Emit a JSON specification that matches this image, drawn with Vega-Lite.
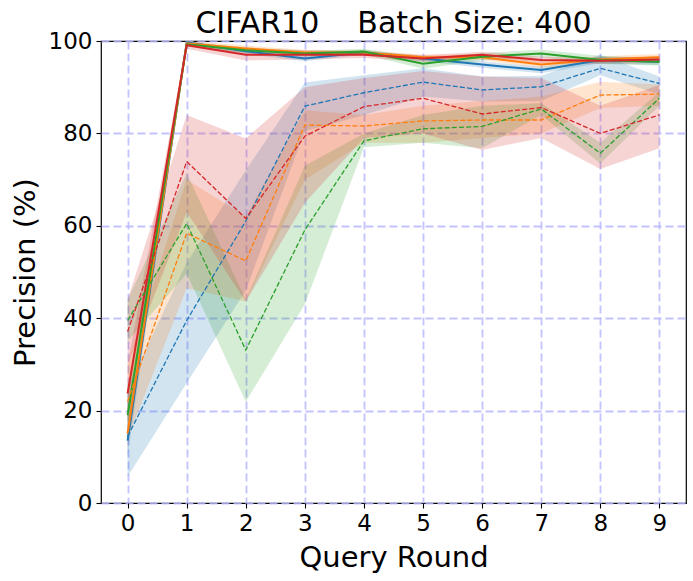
{
  "$schema": "https://vega.github.io/schema/vega-lite/v6.json",
  "width": 585,
  "height": 462,
  "autosize": {"type": "none"},
  "padding": {"left": 101, "top": 41, "right": 7, "bottom": 78},
  "title": {
    "text": "CIFAR10\u00a0\u00a0\u00a0\u00a0Batch Size: 400",
    "font": "DejaVu Sans",
    "fontSize": 30,
    "fontWeight": "normal",
    "color": "black",
    "anchor": "middle",
    "frame": "group",
    "baseline": "alphabetic",
    "offset": 9,
    "dy": 42
  },
  "config": {
    "view": {"stroke": "black", "strokeWidth": 1.2},
    "axis": {
      "labelFont": "DejaVu Sans",
      "labelFontSize": 23,
      "labelColor": "black",
      "titleFont": "DejaVu Sans",
      "titleFontSize": 29,
      "titleFontWeight": "normal",
      "titleColor": "black",
      "tickColor": "black",
      "tickSize": 5,
      "tickWidth": 1.1,
      "labelPadding": 4,
      "domain": false,
      "grid": true,
      "gridColor": "#b8b8ff",
      "gridDash": [8, 4],
      "gridWidth": 1.8,
      "gridOpacity": 0.85
    }
  },
  "data": {
    "values": [
      {"s":"sb","c":"blue","d":"solid","x":0,"m":13.5,"lo":10,"hi":18},
      {"s":"sb","c":"blue","d":"solid","x":1,"m":99.7,"lo":99.2,"hi":100},
      {"s":"sb","c":"blue","d":"solid","x":2,"m":97.8,"lo":97.2,"hi":98.4},
      {"s":"sb","c":"blue","d":"solid","x":3,"m":96.2,"lo":95.6,"hi":96.8},
      {"s":"sb","c":"blue","d":"solid","x":4,"m":97.5,"lo":97.0,"hi":98.0},
      {"s":"sb","c":"blue","d":"solid","x":5,"m":96.2,"lo":95.6,"hi":96.8},
      {"s":"sb","c":"blue","d":"solid","x":6,"m":94.9,"lo":94.2,"hi":95.6},
      {"s":"sb","c":"blue","d":"solid","x":7,"m":93.7,"lo":93.0,"hi":94.4},
      {"s":"sb","c":"blue","d":"solid","x":8,"m":95.9,"lo":95.2,"hi":96.6},
      {"s":"sb","c":"blue","d":"solid","x":9,"m":95.5,"lo":94.8,"hi":96.2},
      {"s":"so","c":"orange","d":"solid","x":0,"m":15,"lo":12,"hi":19},
      {"s":"so","c":"orange","d":"solid","x":1,"m":99.5,"lo":99.0,"hi":100},
      {"s":"so","c":"orange","d":"solid","x":2,"m":98.4,"lo":97.8,"hi":99.0},
      {"s":"so","c":"orange","d":"solid","x":3,"m":97.5,"lo":96.9,"hi":98.1},
      {"s":"so","c":"orange","d":"solid","x":4,"m":97.5,"lo":97.0,"hi":98.0},
      {"s":"so","c":"orange","d":"solid","x":5,"m":96.5,"lo":95.9,"hi":97.1},
      {"s":"so","c":"orange","d":"solid","x":6,"m":96.5,"lo":95.9,"hi":97.1},
      {"s":"so","c":"orange","d":"solid","x":7,"m":94.9,"lo":94.2,"hi":95.6},
      {"s":"so","c":"orange","d":"solid","x":8,"m":96.0,"lo":95.3,"hi":96.7},
      {"s":"so","c":"orange","d":"solid","x":9,"m":96.5,"lo":95.8,"hi":97.2},
      {"s":"sg","c":"green","d":"solid","x":0,"m":19,"lo":15,"hi":23},
      {"s":"sg","c":"green","d":"solid","x":1,"m":99.3,"lo":98.8,"hi":99.8},
      {"s":"sg","c":"green","d":"solid","x":2,"m":98.0,"lo":97.4,"hi":98.6},
      {"s":"sg","c":"green","d":"solid","x":3,"m":97.3,"lo":96.7,"hi":97.9},
      {"s":"sg","c":"green","d":"solid","x":4,"m":97.7,"lo":97.1,"hi":98.3},
      {"s":"sg","c":"green","d":"solid","x":5,"m":95.1,"lo":94.0,"hi":96.2},
      {"s":"sg","c":"green","d":"solid","x":6,"m":96.6,"lo":95.8,"hi":97.4},
      {"s":"sg","c":"green","d":"solid","x":7,"m":97.3,"lo":96.5,"hi":98.1},
      {"s":"sg","c":"green","d":"solid","x":8,"m":95.9,"lo":95.0,"hi":96.8},
      {"s":"sg","c":"green","d":"solid","x":9,"m":95.5,"lo":94.7,"hi":96.3},
      {"s":"sr","c":"red","d":"solid","x":0,"m":23.7,"lo":18,"hi":30},
      {"s":"sr","c":"red","d":"solid","x":1,"m":99.1,"lo":98.3,"hi":99.8},
      {"s":"sr","c":"red","d":"solid","x":2,"m":97.0,"lo":95.8,"hi":98.4},
      {"s":"sr","c":"red","d":"solid","x":3,"m":97.0,"lo":96.0,"hi":98.0},
      {"s":"sr","c":"red","d":"solid","x":4,"m":97.0,"lo":96.3,"hi":97.7},
      {"s":"sr","c":"red","d":"solid","x":5,"m":96.2,"lo":95.5,"hi":96.9},
      {"s":"sr","c":"red","d":"solid","x":6,"m":97.0,"lo":96.3,"hi":97.7},
      {"s":"sr","c":"red","d":"solid","x":7,"m":95.9,"lo":95.2,"hi":96.6},
      {"s":"sr","c":"red","d":"solid","x":8,"m":95.7,"lo":95.0,"hi":96.4},
      {"s":"sr","c":"red","d":"solid","x":9,"m":96.0,"lo":95.3,"hi":96.7},
      {"s":"db","c":"blue","d":"dashed","x":0,"m":14.4,"lo":5.7,"hi":25},
      {"s":"db","c":"blue","d":"dashed","x":1,"m":39.5,"lo":26,"hi":52},
      {"s":"db","c":"blue","d":"dashed","x":2,"m":61,"lo":46,"hi":72},
      {"s":"db","c":"blue","d":"dashed","x":3,"m":85.9,"lo":80.5,"hi":91},
      {"s":"db","c":"blue","d":"dashed","x":4,"m":88.8,"lo":84,"hi":92.6},
      {"s":"db","c":"blue","d":"dashed","x":5,"m":91.1,"lo":88,"hi":94.1},
      {"s":"db","c":"blue","d":"dashed","x":6,"m":89.4,"lo":86.9,"hi":92.3},
      {"s":"db","c":"blue","d":"dashed","x":7,"m":90.1,"lo":87,"hi":92.5},
      {"s":"db","c":"blue","d":"dashed","x":8,"m":94.1,"lo":92.6,"hi":97},
      {"s":"db","c":"blue","d":"dashed","x":9,"m":90.8,"lo":88.4,"hi":92.3},
      {"s":"do","c":"orange","d":"dashed","x":0,"m":22,"lo":14,"hi":30},
      {"s":"do","c":"orange","d":"dashed","x":1,"m":58.4,"lo":46.5,"hi":70},
      {"s":"do","c":"orange","d":"dashed","x":2,"m":52.4,"lo":43.6,"hi":62},
      {"s":"do","c":"orange","d":"dashed","x":3,"m":81.8,"lo":70,"hi":85},
      {"s":"do","c":"orange","d":"dashed","x":4,"m":81.6,"lo":78,"hi":84},
      {"s":"do","c":"orange","d":"dashed","x":5,"m":82.7,"lo":78,"hi":86},
      {"s":"do","c":"orange","d":"dashed","x":6,"m":82.9,"lo":79,"hi":87},
      {"s":"do","c":"orange","d":"dashed","x":7,"m":82.9,"lo":80,"hi":88},
      {"s":"do","c":"orange","d":"dashed","x":8,"m":88.3,"lo":85.5,"hi":91.2},
      {"s":"do","c":"orange","d":"dashed","x":9,"m":88.5,"lo":86,"hi":90.6},
      {"s":"dg","c":"green","d":"dashed","x":0,"m":39.5,"lo":35,"hi":44},
      {"s":"dg","c":"green","d":"dashed","x":1,"m":60.5,"lo":49.7,"hi":71.4},
      {"s":"dg","c":"green","d":"dashed","x":2,"m":33.1,"lo":21.9,"hi":44},
      {"s":"dg","c":"green","d":"dashed","x":3,"m":59.1,"lo":43,"hi":73},
      {"s":"dg","c":"green","d":"dashed","x":4,"m":78.4,"lo":77,"hi":80},
      {"s":"dg","c":"green","d":"dashed","x":5,"m":81.0,"lo":78,"hi":84},
      {"s":"dg","c":"green","d":"dashed","x":6,"m":81.5,"lo":76.8,"hi":86},
      {"s":"dg","c":"green","d":"dashed","x":7,"m":85.3,"lo":84,"hi":86.5},
      {"s":"dg","c":"green","d":"dashed","x":8,"m":75.7,"lo":73.5,"hi":78},
      {"s":"dg","c":"green","d":"dashed","x":9,"m":87.6,"lo":86,"hi":89},
      {"s":"dr","c":"red","d":"dashed","x":0,"m":37.1,"lo":30,"hi":44},
      {"s":"dr","c":"red","d":"dashed","x":1,"m":73.9,"lo":63,"hi":84},
      {"s":"dr","c":"red","d":"dashed","x":2,"m":61.6,"lo":43.6,"hi":78.9},
      {"s":"dr","c":"red","d":"dashed","x":3,"m":79.4,"lo":65,"hi":90},
      {"s":"dr","c":"red","d":"dashed","x":4,"m":85.8,"lo":79,"hi":92},
      {"s":"dr","c":"red","d":"dashed","x":5,"m":87.6,"lo":80,"hi":93.5},
      {"s":"dr","c":"red","d":"dashed","x":6,"m":84.2,"lo":76.4,"hi":92.3},
      {"s":"dr","c":"red","d":"dashed","x":7,"m":85.6,"lo":79,"hi":92},
      {"s":"dr","c":"red","d":"dashed","x":8,"m":80.0,"lo":72.3,"hi":86},
      {"s":"dr","c":"red","d":"dashed","x":9,"m":84.0,"lo":76.8,"hi":90.5}
    ]
  },
  "encoding": {
    "x": {
      "field": "x",
      "type": "quantitative",
      "scale": {"domain": [-0.45, 9.45], "nice": false, "zero": false},
      "axis": {"title": "Query Round", "values": [0,1,2,3,4,5,6,7,8,9], "titlePadding": 8, "labelFlush": false}
    },
    "color": {
      "field": "c",
      "type": "nominal",
      "scale": {"domain": ["blue","orange","green","red"], "range": ["#1f77b4","#ff7f0e","#2ca02c","#d62728"]},
      "legend": null
    },
    "detail": {"field": "s", "type": "nominal"}
  },
  "layer": [
    {
      "mark": {"type": "area", "opacity": 0.2},
      "encoding": {
        "y": {
          "field": "lo",
          "type": "quantitative",
          "scale": {"domain": [0, 100], "nice": false},
          "axis": {"title": "Precision (%)", "values": [0,20,40,60,80,100], "titlePadding": 8, "labelFlush": false}
        },
        "y2": {"field": "hi"}
      }
    },
    {
      "transform": [{"filter": "datum.d === 'solid'"}],
      "mark": {"type": "line", "strokeWidth": 2},
      "encoding": {
        "y": {"field": "m", "type": "quantitative"}
      }
    },
    {
      "transform": [{"filter": "datum.d === 'dashed'"}],
      "mark": {"type": "line", "strokeWidth": 1.3, "strokeDash": [5, 2.2]},
      "encoding": {
        "y": {"field": "m", "type": "quantitative"}
      }
    }
  ]
}
